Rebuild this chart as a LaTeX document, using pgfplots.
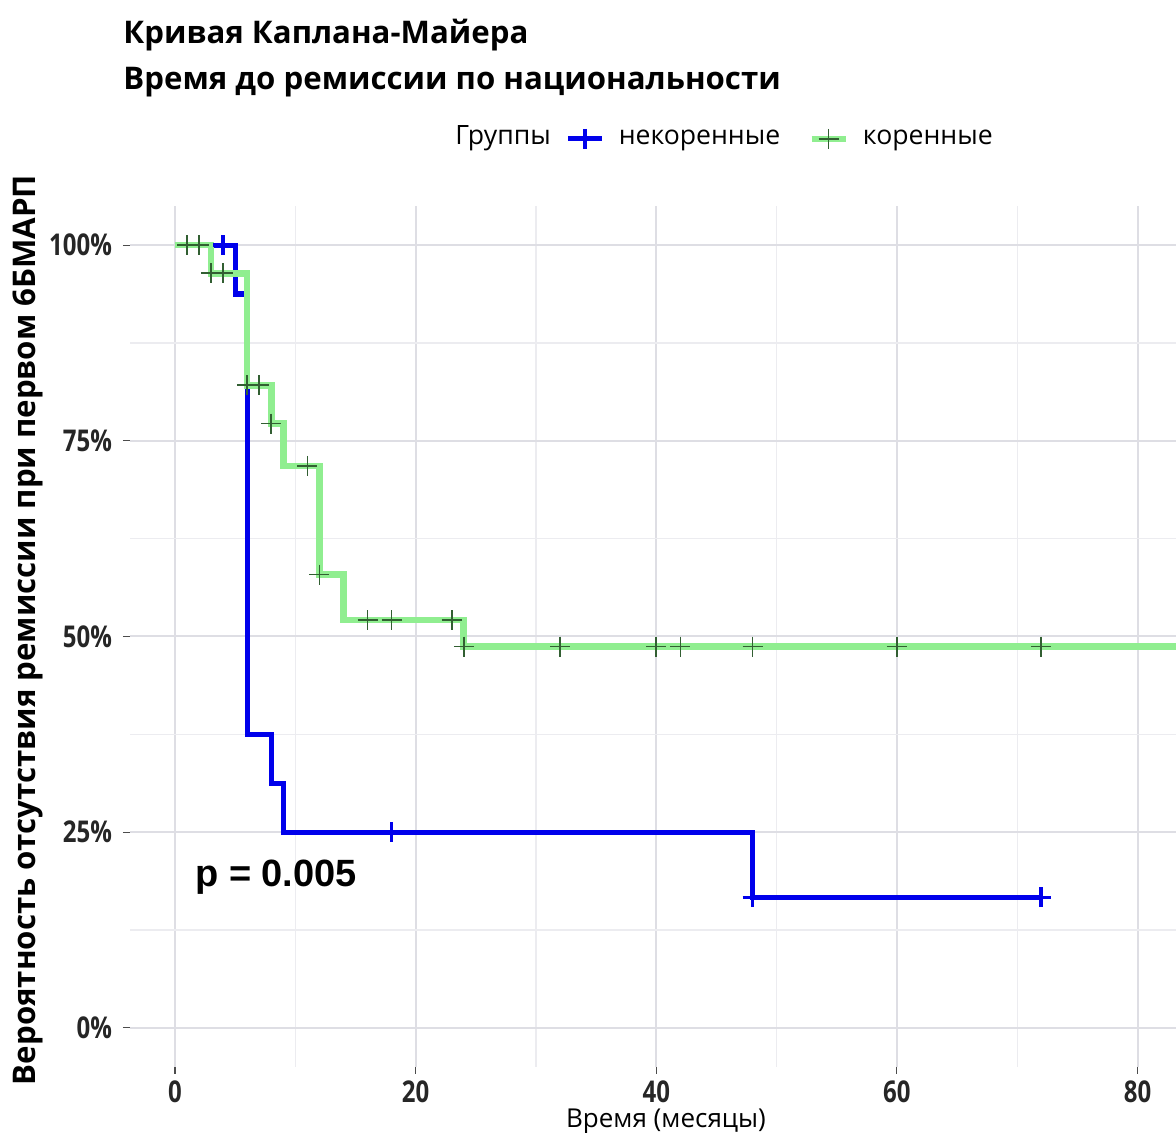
\documentclass[border=0pt]{standalone}
\usepackage{fontspec}
\setmainfont{Open Sans}
\newfontfamily\tickfont[FakeStretch=0.8]{Open Sans}
\newfontfamily\pfont{Liberation Sans}
\usepackage{pgfplots}
\pgfplotsset{compat=1.18}
\definecolor{kmblue}{RGB}{0,0,235}
\definecolor{kmgreen}{RGB}{144,238,144}
\definecolor{kmgreenmark}{RGB}{50,95,50}
\definecolor{gridmaj}{RGB}{222,222,228}
\definecolor{gridmin}{RGB}{236,236,240}
\begin{document}
\begin{tikzpicture}[x=1pt,y=1pt]
\path[use as bounding box] (0,0) rectangle (588,566.5);
\begin{axis}[
  at={(65pt,33pt)}, anchor=south west,
  scale only axis, width=523pt, height=430.5pt,
  xmin=-3.74, xmax=83.2, ymin=-5, ymax=105,
  xtick={0,20,40,60,80}, xticklabels={0,20,40,60,80},
  ytick={0,25,50,75,100}, yticklabels={0\%,25\%,50\%,75\%,100\%},
  minor xtick={10,30,50,70}, minor ytick={12.5,37.5,62.5,87.5},
  grid=both,
  major grid style={gridmaj, line width=1pt},
  minor grid style={gridmin, line width=0.6pt},
  axis line style={draw=none},
  tick align=outside, tick pos=left,
  major tick length=3.5pt, minor tick length=0pt,
  tick style={color=black!70, line width=0.6pt},
  /pgf/number format/assume math mode=true,
  tick label style={font={\tickfont\bfseries\fontsize{15}{15}\selectfont}, color=black!85},
  yticklabel style={xshift=-2pt},
  legend style={at={(axis description cs:0.4159,1.078)}, anchor=west, draw=none, fill=none,
    inner sep=0pt, font={\fontsize{13.3}{15}\selectfont}, legend columns=-1,
    /tikz/every odd column/.append style={column sep=5pt},
    /tikz/every even column/.append style={column sep=12pt}},
  legend cell align=left,
]
\addlegendimage{kmblue, line width=2.6pt, mark=+, mark size=5pt, mark options={line width=1.8pt}}
\addlegendentry{некоренные}
\addlegendimage{kmgreen, line width=3.3pt, mark=+, mark size=5pt, mark options={kmgreenmark, line width=0.8pt}}
\addlegendentry{коренные}

% некоренные
\addplot[kmblue, line width=2.6pt, const plot, forget plot] coordinates {
 (0,100) (5,93.75) (6,37.5) (8,31.25) (9,25) (48,16.67) (72,16.67)
};
\addplot[only marks, kmblue, mark=+, mark size=5pt, mark options={line width=1.8pt}, forget plot] coordinates {
 (4,100) (18,25) (48,16.67) (72,16.67)
};
% коренные
\addplot[kmgreen, line width=3.3pt, const plot, forget plot] coordinates {
 (0,100) (3,96.4) (6,82.1) (8,77.2) (9,71.8) (12,57.9) (14,52.1) (24,48.7) (90,48.7)
};
\addplot[only marks, kmgreenmark, mark=+, mark size=5pt, mark options={line width=0.8pt}, forget plot] coordinates {
 (1,100) (2,100) (3,96.4) (4,96.4) (6,82.1) (7,82.1) (8,77.2) (11,71.8) (12,57.9)
 (16,52.1) (18,52.1) (23,52.1) (24,48.7) (32,48.7) (40,48.7) (42,48.7) (48,48.7) (60,48.7) (72,48.7)
};
\node[anchor=base west, inner sep=0, font={\pfont\bfseries\fontsize{19}{21}\selectfont}] at (axis cs:1.66,18.1) {p = 0.005};
\end{axis}
\node[anchor=base west, inner sep=0, font={\bfseries\fontsize{15.6}{18}\selectfont}] at (61.5,544.5) {Кривая Каплана-Майера};
\node[anchor=base west, inner sep=0, font={\bfseries\fontsize{15.6}{18}\selectfont}] at (61.5,521.5) {Время до ремиссии по национальности};
\node[anchor=base west, inner sep=0, font={\fontsize{13.3}{15}\selectfont}] at (227.5,494) {Группы};
\node[rotate=90, inner sep=0, font={\bfseries\fontsize{15.6}{18}\selectfont}] at (14,251.5) {Вероятность отсутствия ремиссии при первом 6БМАРП};
\node[inner sep=0, font={\fontsize{13}{15}\selectfont}] at (333,5.8) {Время (месяцы)};
\end{tikzpicture}
\end{document}
